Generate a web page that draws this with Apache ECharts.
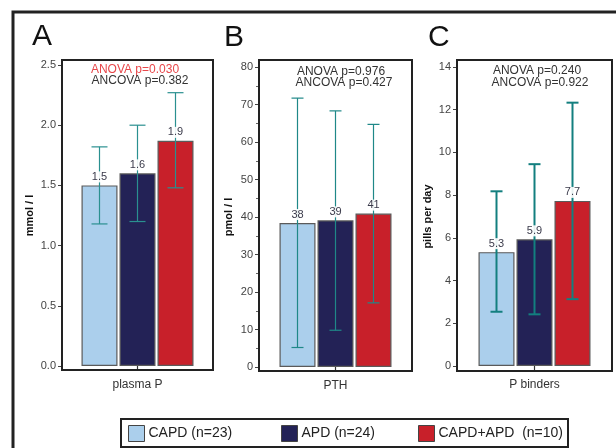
<!DOCTYPE html>
<html>
<head>
<meta charset="utf-8">
<script src="https://cdn.jsdelivr.net/npm/echarts@6/dist/echarts.min.js"></script>
<style>html,body{margin:0;padding:0;background:#fff;}#c{width:616px;height:448px;}</style>
</head>
<body>
<div id="c"></div>
<script>
// ---- data ----
const groups = ['CAPD (n=23)', 'APD (n=24)', 'CAPD+APD  (n=10)'];
const panelLetters = ['A', 'B', 'C'];
const categories = ['plasma P', 'PTH', 'P binders'];
const yNames = ['mmol / l', 'pmol / l', 'pills per day'];
const plasmaPMean = [1.50, 1.60, 1.87];
const plasmaPLow = [1.18, 1.20, 1.48];
const plasmaPHigh = [1.82, 2.00, 2.27];
const pthMean = [38.4, 39.1, 40.9];
const pthLow = [5.2, 9.8, 17.1];
const pthHigh = [71.7, 68.3, 64.7];
const bindersMean = [5.33, 5.93, 7.73];
const bindersLow = [2.54, 2.42, 3.13];
const bindersHigh = [8.18, 9.45, 12.33];
const yMax = [2.5, 80, 14];
const yInterval = [0.5, 10, 2];
const tickDecimals = [1, 0, 0];
const labelDecimals = [1, 0, 1];
const anovaText = ['ANOVA p=0.030', 'ANOVA p=0.976', 'ANOVA p=0.240'];
const ancovaText = ['ANCOVA p=0.382', 'ANCOVA p=0.427', 'ANCOVA p=0.922'];

const means = [plasmaPMean, pthMean, bindersMean];
const lows = [plasmaPLow, pthLow, bindersLow];
const highs = [plasmaPHigh, pthHigh, bindersHigh];

// ---- style / layout ----
const FONT = 'Liberation Sans, Arial, sans-serif';
const colors = ['#abcfec', '#232256', '#c8202a'];
const BAR_W = 36, BAR_GAP = 2;
const grids = [
  {left: 62, top: 65, width: 151, height: 301},
  {left: 259, top: 67, width: 153, height: 300},
  {left: 457, top: 67, width: 155, height: 299}
];
const boxes = [
  {x: 62, y: 60, w: 151, h: 310},
  {x: 259, y: 60, w: 153, h: 311},
  {x: 457, y: 60, w: 155, h: 311}
];
const nameGaps = [27, 25, 24];
const errColors = ['#2a9090', '#1f8888', '#137f7f'];
const errWidths = [1.2, 1.2, 2];
const capW = [16, 12, 12];
const letterPos = [[32, 22], [224, 23], [428, 23]];
const anovaPos = [[135, 70, 140, 81], [341, 72, 344, 83], [537, 71, 540, 83]];
const anovaColors = ['#e8474a', '#333', '#333'];
const legendX = [128, 281, 418];

const series = [];
for (let p = 0; p < 3; p++) {
  for (let g = 0; g < 3; g++) {
    series.push({
      type: 'bar', name: groups[g], xAxisIndex: p, yAxisIndex: p,
      barWidth: BAR_W, barGap: (BAR_GAP / BAR_W * 100) + '%',
      itemStyle: {color: colors[g], borderColor: '#5a5a5a', borderWidth: 1.2},
      data: [means[p][g]], z: 2, silent: true
    });
  }
  const errData = [0, 1, 2].map(g => [0, lows[p][g], highs[p][g], means[p][g], g]);
  series.push({
    type: 'custom', xAxisIndex: p, yAxisIndex: p, z: 4, silent: true,
    data: errData,
    renderItem: (params, api) => {
      const gi = api.value(4);
      const c0 = api.coord([api.value(0), 0])[0] + (gi - 1) * (BAR_W + BAR_GAP);
      const yl = api.coord([0, api.value(1)])[1];
      const yh = api.coord([0, api.value(2)])[1];
      const ym = api.coord([0, api.value(3)])[1];
      const st = {stroke: errColors[p], lineWidth: errWidths[p]};
      const hw = capW[p] / 2;
      return {
        type: 'group', children: [
          {type: 'line', shape: {x1: c0, y1: yl, x2: c0, y2: yh}, style: st},
          {type: 'line', shape: {x1: c0 - hw, y1: yh, x2: c0 + hw, y2: yh}, style: st},
          {type: 'line', shape: {x1: c0 - hw, y1: yl, x2: c0 + hw, y2: yl}, style: st},
          {type: 'text', style: {
            text: api.value(3).toFixed(labelDecimals[p]), x: c0, y: ym - 3,
            align: 'center', verticalAlign: 'bottom', fill: '#3a3a4a',
            font: '11px ' + FONT, backgroundColor: 'rgba(255,255,255,0.9)', padding: [0, 1, 0, 1]
          }}
        ]
      };
    }
  });
}

const graphic = [
  {type: 'rect', shape: {x: 13, y: 12, width: 640, height: 480}, style: {fill: 'none', stroke: '#222', lineWidth: 3}, z: 0},
  {type: 'rect', shape: {x: 121, y: 419, width: 447, height: 28}, style: {fill: '#fff', stroke: '#222', lineWidth: 2}, z: 0}
];
for (let p = 0; p < 3; p++) {
  const b = boxes[p];
  graphic.push({type: 'rect', shape: {x: b.x, y: b.y, width: b.w, height: b.h}, style: {fill: 'none', stroke: '#222', lineWidth: 2}, z: 10});
  graphic.push({type: 'text', x: letterPos[p][0], y: letterPos[p][1], style: {text: panelLetters[p], font: '30px ' + FONT, fill: '#111'}, z: 10});
  graphic.push({type: 'text', x: anovaPos[p][0], y: anovaPos[p][1], style: {text: anovaText[p], font: '12px ' + FONT, fill: anovaColors[p], align: 'center', verticalAlign: 'middle'}, z: 10});
  graphic.push({type: 'text', x: anovaPos[p][2], y: anovaPos[p][3], style: {text: ancovaText[p], font: '12px ' + FONT, fill: '#333', align: 'center', verticalAlign: 'middle'}, z: 10});
}

const option = {
  animation: false,
  backgroundColor: '#fff',
  textStyle: {fontFamily: FONT},
  grid: grids.map(g => Object.assign({containLabel: false}, g)),
  xAxis: [0, 1, 2].map(p => ({
    type: 'category', gridIndex: p, data: [categories[p]], offset: 4,
    axisLine: {show: false},
    axisTick: {show: true, alignWithLabel: true, length: 5, lineStyle: {color: '#333', width: 1.2}},
    axisLabel: {margin: 9, fontSize: 12, color: '#333', fontFamily: FONT},
    splitLine: {show: false}
  })),
  yAxis: [0, 1, 2].map(p => ({
    type: 'value', gridIndex: p, min: 0, max: yMax[p], interval: yInterval[p],
    name: yNames[p], nameLocation: 'middle', nameGap: nameGaps[p],
    nameTextStyle: {fontWeight: 'bold', fontSize: 11, color: '#111', fontFamily: FONT},
    axisLine: {show: false},
    axisTick: {show: true, length: 4, lineStyle: {color: '#444'}},
    minorTick: {show: p === 1, splitNumber: 2, length: 3, lineStyle: {color: '#666'}},
    axisLabel: {margin: 6, fontSize: 11, color: '#444', fontFamily: FONT,
      formatter: v => v.toFixed(tickDecimals[p])},
    splitLine: {show: false}
  })),
  legend: [0, 1, 2].map(g => ({
    data: [groups[g]], left: legendX[g], top: 425, icon: 'rect',
    itemWidth: 16, itemHeight: 16, itemGap: 4, padding: 0,
    itemStyle: {borderColor: '#444', borderWidth: 1},
    textStyle: {fontSize: 14, color: '#222', fontFamily: FONT, padding: [0, 0, 0, -1]},
    selectedMode: false
  })),
  graphic: graphic,
  series: series
};
const chart = echarts.init(document.getElementById('c'), null, {renderer: 'canvas'});
chart.setOption(option);
</script>
</body>
</html>
